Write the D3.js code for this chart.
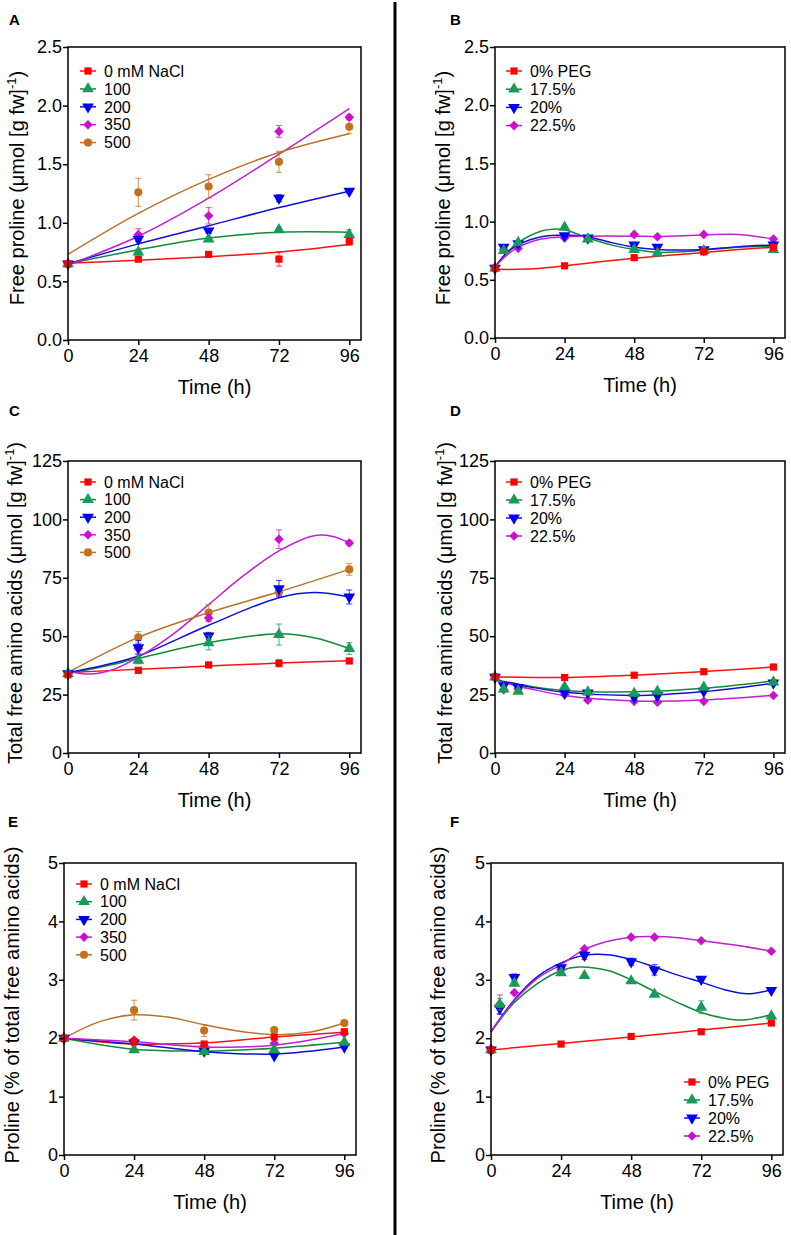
<!DOCTYPE html>
<html><head><meta charset="utf-8">
<script src="https://cdn.jsdelivr.net/npm/d3@7"></script>
<style>body{margin:0;background:#fff} svg{display:block} text{font-family:"Liberation Sans",Arial,sans-serif;font-weight:normal}</style>
</head><body><svg id="c" width="791" height="1235"></svg>
<script>
// ---------- DATA ----------
const tNaCl = [0, 24, 48, 72, 96];
const tPEG = [0, 3, 8, 24, 32, 48, 56, 72, 96];
const xTicks = [0, 24, 48, 72, 96];
const naclLabels = ["0 mM NaCl", "100", "200", "350", "500"];
const pegLabels = ["0% PEG", "17.5%", "20%", "22.5%"];
const ticksAB = [0, 0.5, 1.0, 1.5, 2.0, 2.5];
const ticksCD = [0, 25, 50, 75, 100, 125];
const ticksEF = [0, 1, 2, 3, 4, 5];

// Panel A: free proline, NaCl
const A_0 = [0.65, 0.69, 0.73, 0.69, 0.84];
const A_100 = [0.65, 0.75, 0.86, 0.94, 0.90];
const A_200 = [0.65, 0.86, 0.93, 1.21, 1.27];
const A_350 = [0.65, 0.90, 1.06, 1.78, 1.90];
const A_500 = [0.65, 1.26, 1.31, 1.52, 1.82];
const A_0_err = [0, 0.02, 0.02, 0.06, 0.03];
const A_100_err = [0, 0.02, 0.02, 0.02, 0.04];
const A_200_err = [0, 0.02, 0.02, 0.03, 0.02];
const A_350_err = [0, 0.05, 0.07, 0.05, 0.02];
const A_500_err = [0, 0.12, 0.10, 0.09, 0.06];
const fitA_0 = [[0, 0.655], [24, 0.68], [48, 0.71], [72, 0.75], [96, 0.815]];
const fitA_100 = [[0, 0.65], [24, 0.77], [48, 0.87], [72, 0.92], [96, 0.92]];
const fitA_200 = [[0, 0.65], [24, 0.82], [48, 0.975], [72, 1.13], [96, 1.27]];
const fitA_350 = [[0, 0.64], [24, 0.885], [48, 1.21], [72, 1.585], [96, 1.975]];
const fitA_500 = [[0, 0.73], [24, 1.08], [48, 1.37], [72, 1.60], [96, 1.76]];

// Panel B: free proline, PEG
const B_0 = [0.60, 0.62, 0.69, 0.74, 0.78];
const B_175 = [0.60, 0.75, 0.82, 0.95, 0.85, 0.76, 0.73, 0.75, 0.76];
const B_20 = [0.60, 0.78, 0.81, 0.88, 0.86, 0.80, 0.78, 0.76, 0.80];
const B_225 = [0.60, 0.76, 0.77, 0.86, 0.86, 0.89, 0.87, 0.89, 0.85];
const fitB_0 = [[0, 0.59], [8, 0.59], [16, 0.60], [24, 0.62], [36, 0.655], [48, 0.685], [60, 0.71], [72, 0.735], [84, 0.76], [96, 0.78]];
const fitB_175 = [[0, 0.61], [4, 0.73], [8, 0.82], [16, 0.92], [20, 0.935], [24, 0.93], [32, 0.86], [40, 0.80], [48, 0.76], [56, 0.735], [64, 0.74], [72, 0.755], [84, 0.78], [96, 0.79]];
const fitB_20 = [[0, 0.61], [4, 0.73], [8, 0.80], [16, 0.87], [24, 0.885], [32, 0.87], [40, 0.82], [48, 0.78], [56, 0.76], [64, 0.755], [72, 0.76], [84, 0.785], [96, 0.80]];
const fitB_225 = [[0, 0.61], [4, 0.71], [8, 0.78], [16, 0.85], [24, 0.87], [32, 0.875], [48, 0.875], [56, 0.873], [72, 0.885], [84, 0.89], [96, 0.85]];

// Panel C: total free amino acids, NaCl
const C_0 = [33.5, 35.4, 37.7, 38.4, 39.4];
const C_100 = [34, 39.7, 47.2, 50.7, 44.7];
const C_200 = [34, 45.1, 50.1, 70.4, 66.8];
const C_350 = [34, 44.7, 57.8, 91.5, 89.9];
const C_500 = [34, 49.5, 60.1, 68.9, 78.6];
const C_0_err = [0, 1, 1, 1.5, 1];
const C_100_err = [0, 1.5, 3, 4.5, 2.5];
const C_200_err = [0, 3, 1.5, 3.5, 3];
const C_350_err = [0, 2, 1.5, 4, 1];
const C_500_err = [0, 2.5, 3.5, 1.5, 2.5];
const fitC_0 = [[0, 34.5], [24, 35.8], [48, 37.2], [72, 38.5], [96, 39.5]];
const fitC_100 = [[0, 34], [12, 37], [24, 40.5], [48, 47.2], [72, 51], [84, 49.3], [96, 44.7]];
const fitC_200 = [[0, 34.5], [12, 37.5], [24, 41.5], [48, 54.7], [72, 66.5], [84, 68.7], [96, 66.8]];
const fitC_350 = [[0, 35], [8, 33.8], [16, 36], [24, 41], [36, 51], [48, 63.5], [60, 76], [72, 86.5], [84, 93], [90, 92.8], [96, 90]];
const fitC_500 = [[0, 34.5], [24, 49.5], [48, 60.1], [72, 69], [96, 78.6]];

// Panel D: total free amino acids, PEG
const D_0 = [32.6, 32.3, 33.3, 34.8, 36.8];
const D_175 = [32.5, 27.4, 26.4, 28.3, 26.1, 25.5, 26.4, 28.1, 30.4];
const D_20 = [32.5, 28.8, 28.1, 25.7, 25.7, 23.9, 24.5, 26.5, 30.0];
const D_225 = [32.5, 27.1, 27.4, 25.0, 22.6, 22.1, 21.7, 22.1, 24.6];
const fitD_0 = [[0, 32.6], [24, 32.3], [48, 33.3], [72, 34.9], [96, 36.8]];
const fitD_175 = [[0, 31.5], [12, 28.6], [24, 26.8], [48, 26.2], [72, 27.7], [96, 30.9]];
const fitD_20 = [[0, 31.3], [12, 28.3], [24, 26], [48, 24.6], [72, 26.3], [96, 29.9]];
const fitD_225 = [[0, 31.1], [12, 27.5], [24, 24.6], [48, 22.3], [72, 22.7], [96, 24.7]];

// Panel E: proline % of total, NaCl
const E_0 = [2.00, 1.94, 1.90, 2.02, 2.11];
const E_100 = [2.00, 1.80, 1.77, 1.80, 1.93];
const E_200 = [2.00, 1.92, 1.78, 1.70, 1.85];
const E_350 = [2.00, 1.97, 1.87, 1.91, 2.08];
const E_500 = [2.00, 2.48, 2.13, 2.14, 2.26];
const E_500_err = [0, 0.17, 0.10, 0.03, 0.03];
const fitE_0 = [[0, 2.0], [24, 1.90], [48, 1.92], [72, 2.02], [96, 2.10]];
const fitE_100 = [[0, 2.0], [24, 1.81], [48, 1.78], [72, 1.83], [96, 1.93]];
const fitE_200 = [[0, 2.0], [24, 1.90], [48, 1.77], [72, 1.73], [96, 1.85]];
const fitE_350 = [[0, 2.0], [24, 1.94], [48, 1.85], [72, 1.88], [96, 2.08]];
const fitE_500 = [[0, 2.0], [12, 2.28], [24, 2.40], [36, 2.36], [48, 2.23], [60, 2.12], [72, 2.06], [84, 2.10], [96, 2.26]];

// Panel F: proline % of total, PEG
const F_0 = [1.80, 1.90, 2.03, 2.11, 2.26];
const F_175 = [1.80, 2.58, 2.94, 3.12, 3.07, 2.98, 2.75, 2.53, 2.38];
const F_20 = [1.80, 2.51, 3.04, 3.21, 3.42, 3.31, 3.17, 3.01, 2.82];
const F_225 = [1.80, 2.58, 2.78, 3.17, 3.53, 3.73, 3.73, 3.67, 3.49];
const F_0_err = [0.06, 0, 0, 0, 0];
const F_175_err = [0, 0.10, 0.05, 0, 0, 0, 0, 0.11, 0];
const F_20_err = [0, 0.10, 0.06, 0, 0.07, 0.06, 0.09, 0, 0];
const F_225_err = [0, 0.16, 0, 0, 0, 0, 0, 0, 0];
const fitF_0 = [[0, 1.80], [24, 1.91], [48, 2.02], [72, 2.14], [96, 2.26]];
const fitF_175 = [[0, 2.11], [8, 2.61], [16, 2.94], [24, 3.16], [30, 3.22], [40, 3.16], [48, 3.0], [56, 2.80], [64, 2.61], [72, 2.44], [80, 2.34], [86, 2.31], [96, 2.40]];
const fitF_20 = [[0, 2.11], [8, 2.66], [16, 3.06], [24, 3.29], [32, 3.42], [40, 3.43], [48, 3.35], [56, 3.22], [64, 3.08], [72, 2.96], [80, 2.83], [88, 2.76], [96, 2.83]];
const fitF_225 = [[0, 2.11], [8, 2.64], [16, 3.03], [24, 3.26], [32, 3.52], [40, 3.66], [48, 3.73], [56, 3.74], [64, 3.72], [72, 3.67], [84, 3.59], [96, 3.49]];

// ---------- STYLE ----------
const COL = ["#ff0000", "#1a9a58", "#0000f0", "#cc10cc", "#c4701e"];
const LINECOL = ["#ff1010", "#128a3a", "#1010d0", "#c020d0", "#b8732a"];
const SHAPES = ["square", "triUp", "triDown", "diamond", "circle"];
const FONT = "'Liberation Sans', Arial, sans-serif";

const svg = d3.select("#c");
svg.append("rect").attr("width", 791).attr("height", 1235).attr("fill", "#fff");
svg.append("line").attr("x1", 395).attr("x2", 395).attr("y1", 2).attr("y2", 1235)
  .attr("stroke", "#000").attr("stroke-width", 3);

function drawSymbol(g, cx, cy, shape, color) {
  let gen, rot = 0;
  if (shape === "square") gen = d3.symbol(d3.symbolSquare, 52);
  else if (shape === "triUp") gen = d3.symbol(d3.symbolTriangle, 60);
  else if (shape === "triDown") { gen = d3.symbol(d3.symbolTriangle, 60); rot = 180; }
  else if (shape === "diamond") { gen = d3.symbol(d3.symbolSquare, 46); rot = 45; }
  else gen = d3.symbol(d3.symbolCircle, 52);
  g.append("path").attr("d", gen()).attr("fill", color)
    .attr("transform", `translate(${cx},${cy}) rotate(${rot})`);
}

function drawPanel(p) {
  const g = svg.append("g").attr("font-family", FONT);
  const x = d3.scaleLinear().domain([0, 100]).range([p.left, p.right]);
  const y = d3.scaleLinear().domain([0, p.yMax]).range([p.bottom, p.top]);
  const line = d3.line().x(d => x(d[0])).y(d => y(d[1])).curve(d3.curveCatmullRom.alpha(0.5));

  p.series.forEach((s, i) => {
    g.append("path").attr("d", line(s.fit)).attr("fill", "none")
      .attr("stroke", LINECOL[i]).attr("stroke-width", 1.5);
  });
  for (let i = p.series.length - 1; i >= 0; i--) {
    const s = p.series[i];
    s.v.forEach((v, k) => {
      const e = s.err ? s.err[k] : 0;
      if (e > 0) {
        const xx = x(s.t[k]);
        const eg = g.append("g").attr("stroke", COL[i]).attr("stroke-opacity", 0.65).attr("stroke-width", 1.2);
        eg.append("line").attr("x1", xx).attr("x2", xx).attr("y1", y(v - e)).attr("y2", y(v + e));
        eg.append("line").attr("x1", xx - 3).attr("x2", xx + 3).attr("y1", y(v + e)).attr("y2", y(v + e));
        eg.append("line").attr("x1", xx - 3).attr("x2", xx + 3).attr("y1", y(v - e)).attr("y2", y(v - e));
      }
    });
    s.v.forEach((v, k) => drawSymbol(g, x(s.t[k]), y(v), SHAPES[i], COL[i]));
  }

  g.append("rect").attr("x", p.left).attr("y", p.top)
    .attr("width", p.right - p.left).attr("height", p.bottom - p.top)
    .attr("fill", "none").attr("stroke", "#000").attr("stroke-width", 1.5);

  const xa = g.append("g").attr("transform", `translate(0,${p.bottom})`)
    .call(d3.axisBottom(x).tickValues(xTicks).tickSize(5).tickPadding(4).tickFormat(d3.format("d")));
  const ya = g.append("g").attr("transform", `translate(${p.left},0)`)
    .call(d3.axisLeft(y).tickValues(p.yTicks).tickSize(5).tickPadding(1).tickFormat(p.fmt));
  [xa, ya].forEach(a => {
    a.select(".domain").remove();
    a.attr("font-family", FONT).attr("font-size", 18);
    a.selectAll("line").attr("stroke", "#000").attr("stroke-width", 1.5);
    a.selectAll("text").attr("font-size", 18).attr("fill", "#000");
  });

  g.append("text").attr("x", (p.left + p.right) / 2).attr("y", p.bottom + 54)
    .attr("text-anchor", "middle").attr("font-size", 20).text("Time (h)");
  const yt = g.append("text").attr("transform", `translate(${p.ytx},${p.yty}) rotate(-90)`)
    .attr("text-anchor", "middle").attr("dy", "0.35em").attr("font-size", 20);
  yt.append("tspan").text(p.yTitle);
  if (p.sup) {
    yt.append("tspan").attr("dy", -8).attr("font-size", 13).text("-1");
    yt.append("tspan").attr("dy", 8).text(")");
  }

  p.series.forEach((s, i) => {
    const ly = p.legY + i * p.legDy;
    g.append("line").attr("x1", p.legX - 8).attr("x2", p.legX + 8).attr("y1", ly).attr("y2", ly)
      .attr("stroke", LINECOL[i]).attr("stroke-width", 1.5);
    drawSymbol(g, p.legX, ly, SHAPES[i], COL[i]);
    g.append("text").attr("x", p.legX + 16).attr("y", ly).attr("dy", "0.36em")
      .attr("font-size", 16).text(s.label);
  });

  g.append("text").attr("x", p.lx).attr("y", p.ly).attr("font-size", 15)
    .attr("font-weight", "bold").style("font-weight", "bold").text(p.letter);
}

function mk(t, vals, errs, fits, labels) {
  return vals.map((v, i) => ({ t: (t.length !== v.length) ? tNaCl : t, v, err: errs[i], fit: fits[i], label: labels[i] }));
}

const f1 = d3.format(".1f"), f0 = d3.format("d");

drawPanel({
  letter: "A", lx: 9, ly: 25, left: 68, right: 361, top: 47, bottom: 340, yMax: 2.5, yTicks: ticksAB, fmt: f1,
  yTitle: "Free proline (\u03bcmol [g fw]", sup: true, ytx: 17, yty: 188, legX: 88, legY: 71, legDy: 17.9,
  series: mk(tNaCl, [A_0, A_100, A_200, A_350, A_500], [A_0_err, A_100_err, A_200_err, A_350_err, A_500_err],
    [fitA_0, fitA_100, fitA_200, fitA_350, fitA_500], naclLabels)
});
drawPanel({
  letter: "B", lx: 450, ly: 25, left: 495, right: 785, top: 47, bottom: 338, yMax: 2.5, yTicks: ticksAB, fmt: f1,
  yTitle: "Free proline (\u03bcmol [g fw]", sup: true, ytx: 443, yty: 188, legX: 514, legY: 71, legDy: 18.2,
  series: mk(tPEG, [B_0, B_175, B_20, B_225], [null, null, null, null],
    [fitB_0, fitB_175, fitB_20, fitB_225], pegLabels)
});
drawPanel({
  letter: "C", lx: 9, ly: 416, left: 68, right: 361, top: 461, bottom: 753, yMax: 125, yTicks: ticksCD, fmt: f0,
  yTitle: "Total free amino acids (\u03bcmol [g fw]", sup: true, ytx: 15, yty: 603, legX: 88, legY: 482, legDy: 17.6,
  series: mk(tNaCl, [C_0, C_100, C_200, C_350, C_500], [C_0_err, C_100_err, C_200_err, C_350_err, C_500_err],
    [fitC_0, fitC_100, fitC_200, fitC_350, fitC_500], naclLabels)
});
drawPanel({
  letter: "D", lx: 450, ly: 416, left: 495, right: 785, top: 461, bottom: 753, yMax: 125, yTicks: ticksCD, fmt: f0,
  yTitle: "Total free amino acids (\u03bcmol [g fw]", sup: true, ytx: 445, yty: 603, legX: 514, legY: 482, legDy: 18,
  series: mk(tPEG, [D_0, D_175, D_20, D_225], [null, null, null, null],
    [fitD_0, fitD_175, fitD_20, fitD_225], pegLabels)
});
drawPanel({
  letter: "E", lx: 8, ly: 827, left: 64, right: 356, top: 863, bottom: 1155, yMax: 5, yTicks: ticksEF, fmt: f0,
  yTitle: "Proline (% of total free amino acids)", sup: false, ytx: 12, yty: 1005, legX: 84, legY: 884, legDy: 17.7,
  series: mk(tNaCl, [E_0, E_100, E_200, E_350, E_500], [null, null, null, null, E_500_err],
    [fitE_0, fitE_100, fitE_200, fitE_350, fitE_500], naclLabels)
});
drawPanel({
  letter: "F", lx: 450, ly: 827, left: 491, right: 783, top: 863, bottom: 1155, yMax: 5, yTicks: ticksEF, fmt: f0,
  yTitle: "Proline (% of total free amino acids)", sup: false, ytx: 438, yty: 1005, legX: 692, legY: 1082, legDy: 18,
  series: mk(tPEG, [F_0, F_175, F_20, F_225], [F_0_err, F_175_err, F_20_err, F_225_err],
    [fitF_0, fitF_175, fitF_20, fitF_225], pegLabels)
});
</script></body></html>
